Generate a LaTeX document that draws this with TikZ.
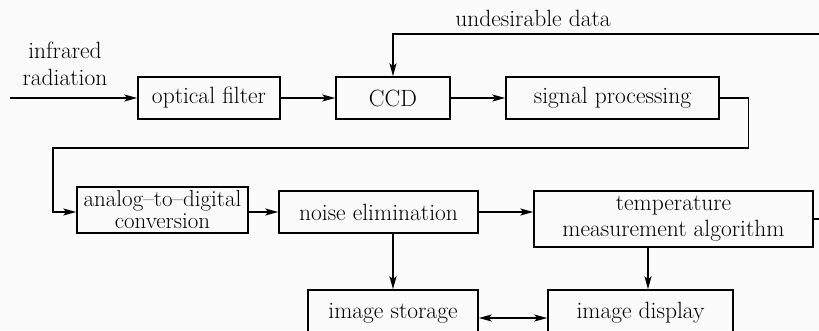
\documentclass[tikz,border=0pt]{standalone}
\usetikzlibrary{arrows.meta}
\begin{document}
\begin{tikzpicture}[x=1pt,y=-1pt,
  box/.style={draw,line width=1.5pt,minimum height=42pt,inner sep=0pt,align=center,font=\fontsize{23.5}{26}\selectfont},
  lbl/.style={align=center,inner sep=0pt,font=\fontsize{23.5}{27}\selectfont},
  conn/.style={line width=1.4pt,-{Stealth[length=13pt,width=7pt,inset=3pt]}},
  plain/.style={line width=1.4pt}]
\useasboundingbox (0,0) rectangle (819,330);
\clip (0,0) rectangle (819,330);
\fill[gray!3] (0,0) rectangle (819,330);
% nodes
\node[box,minimum width=142pt] (filter) at (209,98) {optical filter};
\node[box,minimum width=114pt] (ccd) at (393,98) {CCD};
\node[box,minimum width=213pt] (sig) at (612.5,98) {signal processing};
\node[box,minimum width=171pt,minimum height=46pt,font=\fontsize{23}{22}\selectfont] (adc) at (162.5,210) {analog--to--digital\\conversion};
\node[box,minimum width=199pt] (noise) at (378.5,212) {noise elimination};
\node[box,minimum width=279pt,minimum height=56pt] (temp) at (673.5,219) {temperature\\measurement algorithm};
\node[box,minimum width=170pt,minimum height=46pt] (store) at (393,313) {image storage};
\node[box,minimum width=185pt,minimum height=46pt] (disp) at (640.5,313) {image display};
\node[lbl] (ir) at (65,64) {infrared\\radiation};
\node[lbl] (ud) at (533,18) {undesirable data};
% coordinates
\coordinate (in) at (10,98);
\coordinate (td) at (648,247);
\coordinate (rt) at (826,34);
% connectors
\draw[conn] (in) -- (filter.west);
\draw[conn] (filter.east) -- (ccd.west);
\draw[conn] (ccd.east) -- (sig.west);
\draw[conn] (sig.east) -- ++(29,0) |- (53,148) |- (adc.west |- 0,212);
\draw[conn] (adc.east |- 0,212) -- (noise.west);
\draw[conn] (noise.east) -- (temp.west |- noise.east);
\draw[conn] (noise.south -| store.north) -- (store.north);
\draw[conn] (temp.south -| td) -- (disp.north -| td);
\draw[line width=1.4pt,{Stealth[length=13pt,width=7pt,inset=3pt]}-{Stealth[length=13pt,width=7pt,inset=3pt]}] (store.east |- 0,318) -- (disp.west |- 0,318);
\draw[conn] (temp.east) -| (rt) -| (ccd.north);
\end{tikzpicture}
\end{document}
